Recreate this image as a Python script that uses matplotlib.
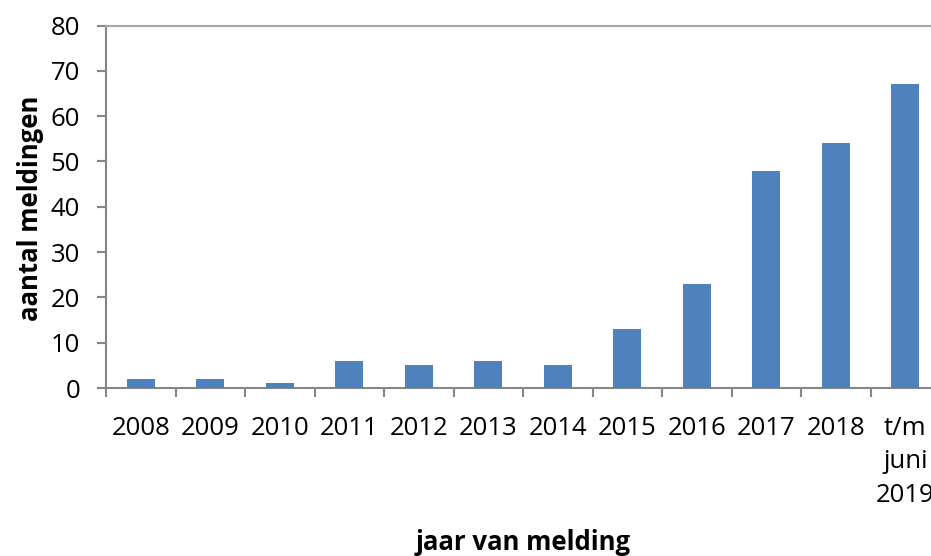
import matplotlib
matplotlib.use("Agg")
import matplotlib.pyplot as plt
import numpy as np

categories = ["2008", "2009", "2010", "2011", "2012", "2013", "2014", "2015",
              "2016", "2017", "2018", "t/m\njuni\n2019"]
values = [2, 2, 1, 6, 5, 6, 5, 13, 23, 48, 54, 67]
yticks = [0, 10, 20, 30, 40, 50, 60, 70, 80]

plt.rcParams['font.family'] = ['Open Sans', 'DejaVu Sans']

W, H = 931, 556
fig = plt.figure(figsize=(W / 100, H / 100), dpi=100)
left, right, top, bottom = 106, 940, 25.5, 388
ax = fig.add_axes([left / W, 1 - bottom / H, (right - left) / W, (bottom - top) / H])

x = np.arange(len(categories))
ax.bar(x, values, width=0.4, color='#4F81BD', edgecolor='none', zorder=3)

ax.set_xlim(-0.5, len(categories) - 0.5)
ax.set_ylim(0, 80)
ax.set_yticks(yticks)
ax.set_yticklabels([str(t) for t in yticks], fontsize=18.5)

ax.set_xticks(x)
ax.set_xticklabels(categories, fontsize=18.5, linespacing=1.45, va='top')
ax.set_xticks(np.arange(len(categories) + 1) - 0.5, minor=True)
ax.tick_params(axis='x', which='major', length=0, pad=20)
ax.tick_params(axis='x', which='minor', length=6.5, width=1.5, color='#868686', direction='out')
ax.tick_params(axis='y', which='major', length=6.5, width=1.5, color='#868686', direction='out', pad=12)

for s in ['left', 'bottom', 'top']:
    ax.spines[s].set_color('#868686')
    ax.spines[s].set_linewidth(1.5)
ax.spines['right'].set_visible(False)
ax.spines['top'].set_color('#A6A6A6')

fig.text(31 / W, 1 - 208 / H, 'aantal meldingen', rotation=90, fontsize=18.5,
         fontweight='bold', ha='center', va='center')
fig.text(523 / W, 1 - 543 / H, 'jaar van melding', fontsize=18.5,
         fontweight='bold', ha='center', va='center')

fig.savefig('out.png', dpi=100)
